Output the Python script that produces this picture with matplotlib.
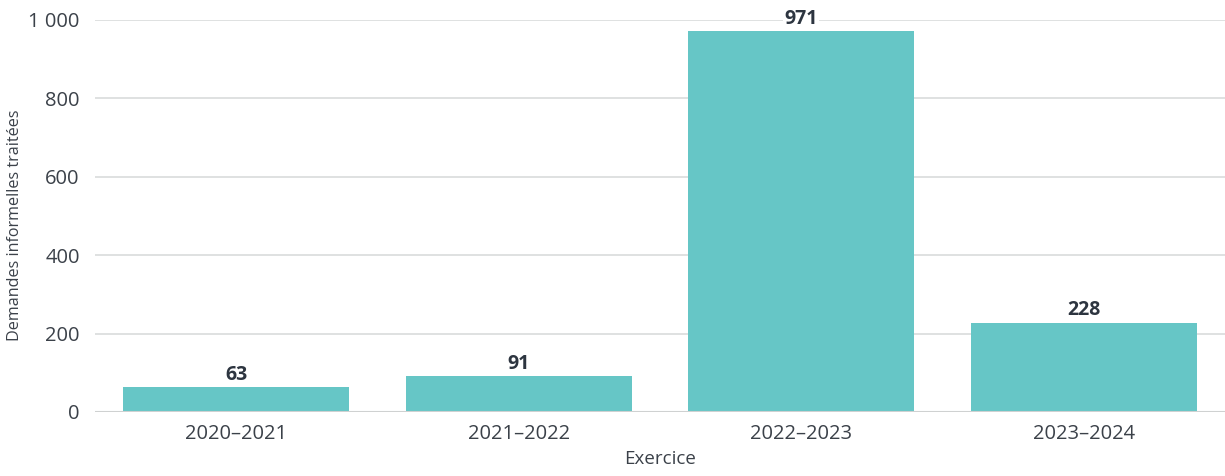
import matplotlib
matplotlib.use("Agg")
import matplotlib.pyplot as plt
from matplotlib.ticker import FuncFormatter

# exercices and informal requests processed
exercices = ["2020–2021", "2021–2022", "2022–2023", "2023–2024"]
demandes = [63, 91, 971, 228]
yticks = [0, 200, 400, 600, 800, 1000]

BAR = "#66c6c6"
TXT = "#3b4149"
GRID = "#d9dcdc"

plt.rcParams["font.family"] = ["Open Sans", "DejaVu Sans"]

fig = plt.figure(figsize=(12.25, 4.76), dpi=100)
ax = fig.add_axes([0.0776, 0.1345, 0.9224, 0.8235])

x = range(len(exercices))
bars = ax.bar(x, demandes, width=0.8, color=BAR, zorder=2)

ax.set_xlim(-0.5, 3.5)
ax.set_ylim(0, 1000)
ax.set_yticks(yticks)
ax.yaxis.set_major_formatter(FuncFormatter(lambda v, p: f"{int(v):,}".replace(",", " ")))
ax.set_xticks(list(x))
ax.set_xticklabels(exercices)
ax.grid(axis="y", color=GRID, linewidth=1.2, zorder=0)
ax.axhline(0, color="#cfd1d1", linewidth=1.5, zorder=3)
for s in ax.spines.values():
    s.set_visible(False)
ax.tick_params(axis="both", length=0, labelsize=14.5, labelcolor=TXT)
ax.tick_params(axis="y", pad=11)
ax.tick_params(axis="x", pad=9)

ax.set_xlabel("Exercice", fontsize=13.5, color=TXT, labelpad=4)
fig.text(15 / 1225, 0.527, "Demandes informelles traitées", rotation=90,
         ha="center", va="center", fontsize=11.6, color=TXT)

for b, v in zip(bars, demandes):
    ax.text(b.get_x() + b.get_width() / 2, v + 7, str(v), ha="center", va="bottom",
            fontsize=14, fontweight="bold", color="#2d3540", zorder=4,
            bbox=dict(facecolor="white", edgecolor="none", pad=1))

fig.savefig("out.png", dpi=100)
